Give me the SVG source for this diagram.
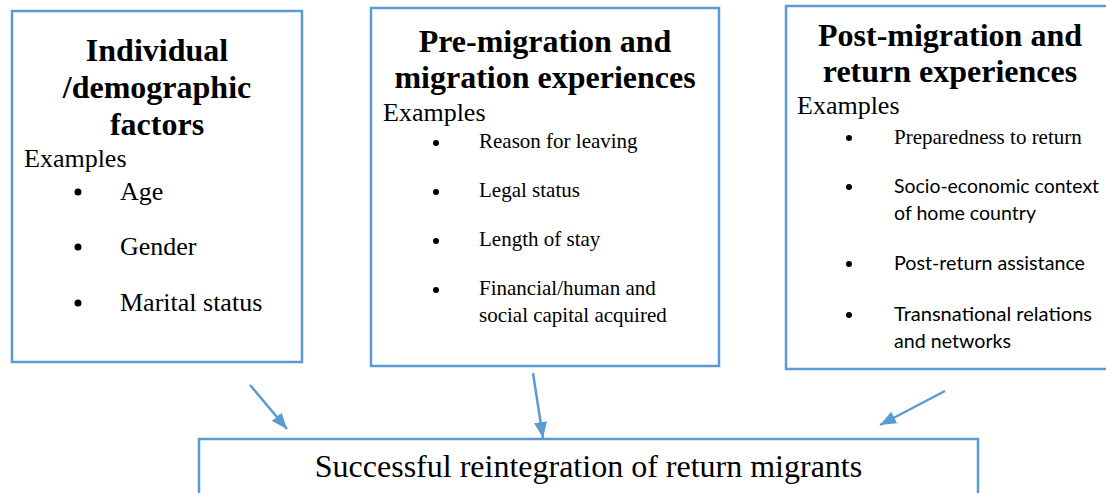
<svg xmlns="http://www.w3.org/2000/svg" width="1106" height="493" viewBox="0 0 1106 493">
  <style>
    .box { fill: #ffffff; stroke: #5b9bd5; stroke-width: 2.5; }
    .title { font-family: "Liberation Serif", "Times New Roman", serif; font-weight: bold; font-size: 32px; fill: #000; text-anchor: middle; }
    .ex { font-family: "Liberation Serif", "Times New Roman", serif; font-size: 26px; fill: #000; }
    .item26 { font-family: "Liberation Serif", "Times New Roman", serif; font-size: 26px; fill: #000; }
    .item21 { font-family: "Liberation Serif", "Times New Roman", serif; font-size: 21px; fill: #000; }
    .cal { font-family: Lato, "Open Sans", sans-serif; font-size: 20px; fill: #000; }
    .main { font-family: "Liberation Serif", "Times New Roman", serif; font-size: 32px; fill: #000; text-anchor: middle; }
    .conn { stroke: #5b9bd5; stroke-width: 2.5; fill: none; marker-end: url(#arrow); }
  </style>
  <defs>
    <marker id="arrow" viewBox="0 0 16 13" refX="16" refY="6.5" markerWidth="16" markerHeight="13" markerUnits="userSpaceOnUse" orient="auto">
      <path d="M0,0 L16,6.5 L0,13 Z" fill="#5b9bd5"/>
    </marker>
  </defs>
  <rect width="1106" height="493" fill="#ffffff"/>

  <!-- Individual / demographic factors -->
  <g id="node-individual">
    <rect class="box" x="12" y="11" width="290" height="351"/>
    <text class="title" x="157" y="61">Individual</text>
    <text class="title" x="157" y="98">/demographic</text>
    <text class="title" x="157" y="135">factors</text>
    <text class="ex" x="24" y="167">Examples</text>
    <circle cx="78" cy="192" r="3.5"/>
    <text class="item26" x="120" y="200">Age</text>
    <circle cx="78" cy="247" r="3.5"/>
    <text class="item26" x="120" y="255">Gender</text>
    <circle cx="78" cy="303" r="3.5"/>
    <text class="item26" x="120" y="311">Marital status</text>
  </g>

  <!-- Pre-migration and migration experiences -->
  <g id="node-premigration">
    <rect class="box" x="371" y="8" width="348" height="358"/>
    <text class="title" x="545" y="52">Pre-migration and</text>
    <text class="title" x="545" y="88">migration experiences</text>
    <text class="ex" x="383" y="121">Examples</text>
    <circle cx="436" cy="143" r="3"/>
    <text class="item21" x="479" y="148">Reason for leaving</text>
    <circle cx="436" cy="192" r="3"/>
    <text class="item21" x="479" y="197">Legal status</text>
    <circle cx="436" cy="241" r="3"/>
    <text class="item21" x="479" y="246">Length of stay</text>
    <circle cx="436" cy="290" r="3"/>
    <text class="item21" x="479" y="295">Financial/human and</text>
    <text class="item21" x="479" y="322">social capital acquired</text>
  </g>

  <!-- Post-migration and return experiences -->
  <g id="node-postmigration">
    <rect class="box" x="786" y="6" width="330" height="363"/>
    <text class="title" x="950" y="46">Post-migration and</text>
    <text class="title" x="950" y="82">return experiences</text>
    <text class="ex" x="797" y="114">Examples</text>
    <circle cx="849" cy="138" r="3"/>
    <text class="item21" x="894" y="144">Preparedness to return</text>
    <circle cx="849" cy="187" r="3"/>
    <text class="cal" x="894" y="193" textLength="205" lengthAdjust="spacingAndGlyphs">Socio-economic context</text>
    <text class="cal" x="894" y="220" textLength="142" lengthAdjust="spacingAndGlyphs">of home country</text>
    <circle cx="849" cy="264" r="3"/>
    <text class="cal" x="894" y="270" textLength="191" lengthAdjust="spacingAndGlyphs">Post-return assistance</text>
    <circle cx="849" cy="315" r="3"/>
    <text class="cal" x="894" y="321" textLength="198" lengthAdjust="spacingAndGlyphs">Transnational relations</text>
    <text class="cal" x="894" y="348" textLength="117" lengthAdjust="spacingAndGlyphs">and networks</text>
  </g>

  <!-- Outcome -->
  <g id="node-outcome">
    <rect class="box" x="199" y="439" width="779" height="70"/>
    <text class="main" x="588.5" y="477">Successful reintegration of return migrants</text>
  </g>

  <!-- Connectors -->
  <g id="connectors">
    <line class="conn" x1="250" y1="385" x2="287" y2="429"/>
    <line class="conn" x1="533" y1="373" x2="543" y2="438"/>
    <line class="conn" x1="945" y1="391" x2="880" y2="425"/>
  </g>
</svg>
